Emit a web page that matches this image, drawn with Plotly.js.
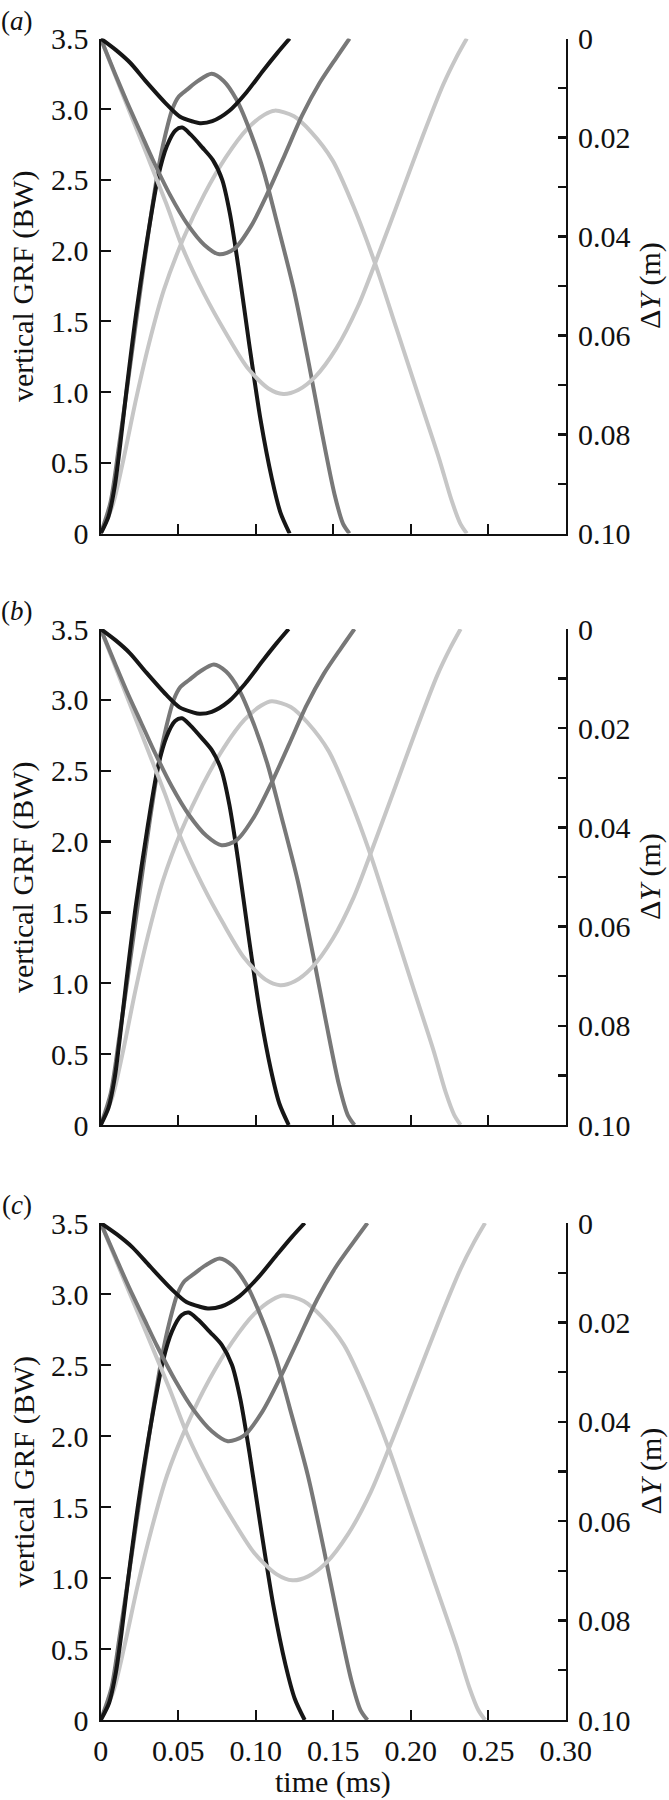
<!DOCTYPE html>
<html>
<head>
<meta charset="utf-8">
<script src="https://cdn.plot.ly/plotly-3.0.1.min.js"></script>
<style>html,body{margin:0;padding:0;background:#fff}#chart{width:669px;height:1800px}</style>
</head>
<body>
<div id="chart"></div>
<script>
// ---------- tick labels ----------
const timeTicks = [0, 0.05, 0.10, 0.15, 0.20, 0.25, 0.30];
const timeTickText = ['0', '0.05', '0.10', '0.15', '0.20', '0.25', '0.30'];
const grfTicks = [0, 0.5, 1.0, 1.5, 2.0, 2.5, 3.0, 3.5];
const grfTickText = ['0', '0.5', '1.0', '1.5', '2.0', '2.5', '3.0', '3.5'];
const dyTicks = [0, 0.01, 0.02, 0.03, 0.04, 0.05, 0.06, 0.07, 0.08, 0.09, 0.10];
const dyTickText = ['0', '', '0.02', '', '0.04', '', '0.06', '', '0.08', '', '0.10'];
const panelLabels = ['a', 'b', 'c'];

// ---------- panel (a) ----------
const tA_blackGRF = [0, 0.005, 0.009, 0.0125, 0.0165, 0.0228, 0.0306, 0.0372, 0.0427, 0.0482, 0.0526, 0.0581, 0.0655, 0.0724, 0.0784, 0.0834, 0.0889, 0.0958, 0.1032, 0.1104, 0.1159, 0.1219];
const grfA_black = [0, 0.12, 0.33, 0.62, 1.0, 1.55, 2.12, 2.53, 2.74, 2.85, 2.87, 2.82, 2.73, 2.64, 2.50, 2.26, 1.88, 1.34, 0.80, 0.39, 0.15, 0];
const tA_darkGRF = [0, 0.0063, 0.0118, 0.0173, 0.0242, 0.0311, 0.0372, 0.0413, 0.0462, 0.0504, 0.0559, 0.0628, 0.0716, 0.0793, 0.0875, 0.0972, 0.1054, 0.1137, 0.1247, 0.1343, 0.1426, 0.1508, 0.1563, 0.1605];
const grfA_dark = [0, 0.22, 0.62, 1.05, 1.61, 2.15, 2.58, 2.80, 3.00, 3.09, 3.14, 3.20, 3.25, 3.20, 3.07, 2.82, 2.55, 2.20, 1.72, 1.20, 0.72, 0.28, 0.07, 0];
const tA_lightGRF = [0, 0.0077, 0.0146, 0.0228, 0.0311, 0.0407, 0.0531, 0.0669, 0.0807, 0.0944, 0.1054, 0.1123, 0.1247, 0.1357, 0.1495, 0.1632, 0.177, 0.1908, 0.2045, 0.2183, 0.2265, 0.232, 0.2362];
const grfA_light = [0, 0.20, 0.52, 0.95, 1.34, 1.72, 2.08, 2.40, 2.66, 2.86, 2.96, 2.99, 2.95, 2.84, 2.64, 2.31, 1.91, 1.45, 0.99, 0.53, 0.23, 0.07, 0];
const tA_blackDY = [0, 0.0097, 0.019, 0.0296, 0.0426, 0.0512, 0.0598, 0.064, 0.072, 0.083, 0.094, 0.105, 0.114, 0.1219];
const dyA_black = [0, 0.0023, 0.0049, 0.0088, 0.0133, 0.0158, 0.0168, 0.0171, 0.0167, 0.0146, 0.0109, 0.0064, 0.0029, 0];
const tA_darkDY = [0, 0.0091, 0.0173, 0.0256, 0.0339, 0.0449, 0.0559, 0.0669, 0.0765, 0.0862, 0.0972, 0.1082, 0.1192, 0.1302, 0.1412, 0.1522, 0.1605];
const dyA_dark = [0, 0.0070, 0.0131, 0.0189, 0.0247, 0.0317, 0.0375, 0.0417, 0.0436, 0.0425, 0.0378, 0.0309, 0.0232, 0.0154, 0.0090, 0.0038, 0];
const tA_lightDY = [0, 0.0146, 0.0284, 0.0421, 0.0531, 0.0669, 0.0807, 0.0944, 0.1082, 0.1178, 0.1274, 0.1385, 0.1522, 0.166, 0.1797, 0.1935, 0.2073, 0.221, 0.2293, 0.2362];
const dyA_light = [0, 0.0116, 0.0224, 0.0332, 0.0425, 0.0517, 0.0595, 0.0664, 0.0707, 0.0718, 0.0710, 0.0683, 0.0625, 0.0541, 0.0432, 0.0317, 0.0201, 0.0093, 0.0039, 0];

// ---------- panel (b) ----------
const tB_blackGRF = [0, 0.005, 0.009, 0.0124, 0.0164, 0.0227, 0.0305, 0.037, 0.0425, 0.048, 0.0524, 0.0578, 0.0652, 0.072, 0.078, 0.083, 0.0885, 0.0953, 0.1027, 0.1098, 0.1153, 0.1213];
const grfB_black = [0, 0.12, 0.33, 0.62, 1.0, 1.55, 2.12, 2.53, 2.74, 2.85, 2.87, 2.82, 2.73, 2.64, 2.50, 2.26, 1.88, 1.34, 0.80, 0.39, 0.15, 0];
const tB_darkGRF = [0, 0.0064, 0.012, 0.0176, 0.0247, 0.0317, 0.0379, 0.0421, 0.0471, 0.0514, 0.057, 0.0641, 0.073, 0.0809, 0.0893, 0.0991, 0.1075, 0.116, 0.1272, 0.137, 0.1455, 0.1538, 0.1594, 0.1637];
const grfB_dark = [0, 0.22, 0.62, 1.05, 1.61, 2.15, 2.58, 2.80, 3.00, 3.09, 3.14, 3.20, 3.25, 3.20, 3.07, 2.82, 2.55, 2.20, 1.72, 1.20, 0.72, 0.28, 0.07, 0];
const tB_lightGRF = [0, 0.0076, 0.0144, 0.0224, 0.0306, 0.04, 0.0522, 0.0658, 0.0793, 0.0928, 0.1036, 0.1104, 0.1226, 0.1334, 0.147, 0.1604, 0.174, 0.1876, 0.201, 0.2146, 0.2226, 0.2281, 0.2322];
const grfB_light = [0, 0.20, 0.52, 0.95, 1.34, 1.72, 2.08, 2.40, 2.66, 2.86, 2.96, 2.99, 2.95, 2.84, 2.64, 2.31, 1.91, 1.45, 0.99, 0.53, 0.23, 0.07, 0];
const tB_blackDY = [0, 0.0097, 0.0189, 0.0295, 0.0424, 0.0509, 0.0595, 0.0637, 0.0716, 0.0826, 0.0935, 0.1045, 0.1134, 0.1213];
const dyB_black = [0, 0.0023, 0.0049, 0.0088, 0.0133, 0.0158, 0.0168, 0.0171, 0.0167, 0.0146, 0.0109, 0.0064, 0.0029, 0];
const tB_darkDY = [0, 0.0093, 0.0176, 0.0261, 0.0346, 0.0458, 0.057, 0.0682, 0.078, 0.0879, 0.0991, 0.1104, 0.1216, 0.1328, 0.144, 0.1552, 0.1637];
const dyB_dark = [0, 0.0070, 0.0131, 0.0189, 0.0247, 0.0317, 0.0375, 0.0417, 0.0436, 0.0425, 0.0378, 0.0309, 0.0232, 0.0154, 0.0090, 0.0038, 0];
const tB_lightDY = [0, 0.0144, 0.0279, 0.0414, 0.0522, 0.0658, 0.0793, 0.0928, 0.1064, 0.1158, 0.1252, 0.1361, 0.1496, 0.1632, 0.1766, 0.1902, 0.2038, 0.2172, 0.2254, 0.2322];
const dyB_light = [0, 0.0116, 0.0224, 0.0332, 0.0425, 0.0517, 0.0595, 0.0664, 0.0707, 0.0718, 0.0710, 0.0683, 0.0625, 0.0541, 0.0432, 0.0317, 0.0201, 0.0093, 0.0039, 0];

// ---------- panel (c) ----------
const tC_blackGRF = [0, 0.0054, 0.0097, 0.0135, 0.0178, 0.0246, 0.033, 0.0402, 0.0461, 0.0521, 0.0568, 0.0627, 0.0707, 0.0782, 0.0847, 0.0901, 0.096, 0.1035, 0.1115, 0.1192, 0.1252, 0.1316];
const grfC_black = [0, 0.12, 0.33, 0.62, 1.0, 1.55, 2.12, 2.53, 2.74, 2.85, 2.87, 2.82, 2.73, 2.64, 2.50, 2.26, 1.88, 1.34, 0.80, 0.39, 0.15, 0];
const tC_darkGRF = [0, 0.0068, 0.0126, 0.0185, 0.0259, 0.0333, 0.0399, 0.0443, 0.0495, 0.054, 0.0599, 0.0673, 0.0768, 0.085, 0.0938, 0.1042, 0.113, 0.1219, 0.1337, 0.144, 0.1529, 0.1617, 0.1676, 0.1721];
const grfC_dark = [0, 0.22, 0.62, 1.05, 1.61, 2.15, 2.58, 2.80, 3.00, 3.09, 3.14, 3.20, 3.25, 3.20, 3.07, 2.82, 2.55, 2.20, 1.72, 1.20, 0.72, 0.28, 0.07, 0];
const tC_lightGRF = [0, 0.0081, 0.0153, 0.0239, 0.0327, 0.0427, 0.0558, 0.0702, 0.0847, 0.0991, 0.1107, 0.1179, 0.1309, 0.1425, 0.157, 0.1714, 0.1859, 0.2003, 0.2147, 0.2292, 0.2378, 0.2436, 0.248];
const grfC_light = [0, 0.20, 0.52, 0.95, 1.34, 1.72, 2.08, 2.40, 2.66, 2.86, 2.96, 2.99, 2.95, 2.84, 2.64, 2.31, 1.91, 1.45, 0.99, 0.53, 0.23, 0.07, 0];
const tC_blackDY = [0, 0.0105, 0.0205, 0.032, 0.046, 0.0553, 0.0646, 0.0691, 0.0778, 0.0896, 0.1015, 0.1134, 0.1231, 0.1316];
const dyC_black = [0, 0.0023, 0.0049, 0.0088, 0.0134, 0.0159, 0.0169, 0.0172, 0.0168, 0.0147, 0.0110, 0.0065, 0.0029, 0];
const tC_darkDY = [0, 0.0098, 0.0185, 0.0274, 0.0363, 0.0481, 0.0599, 0.0717, 0.082, 0.0924, 0.1042, 0.116, 0.1278, 0.1396, 0.1514, 0.1632, 0.1721];
const dyC_dark = [0, 0.0070, 0.0131, 0.0189, 0.0247, 0.0317, 0.0376, 0.0419, 0.0439, 0.0428, 0.0380, 0.0310, 0.0232, 0.0154, 0.0090, 0.0038, 0];
const tC_lightDY = [0, 0.0153, 0.0298, 0.0442, 0.0558, 0.0702, 0.0847, 0.0991, 0.1136, 0.1237, 0.1338, 0.1454, 0.1598, 0.1743, 0.1887, 0.2032, 0.2177, 0.2321, 0.2408, 0.248];
const dyC_light = [0, 0.0116, 0.0224, 0.0332, 0.0425, 0.0517, 0.0595, 0.0664, 0.0707, 0.0719, 0.0711, 0.0684, 0.0625, 0.0541, 0.0432, 0.0317, 0.0201, 0.0093, 0.0039, 0];

// ---------- styling ----------
const BLACK = '#161616', DARK = '#787878', LIGHT = '#c6c6c6';
const FONT = 'Liberation Serif';
const FS = 30;
const LW = 4;

const panels = [
  {grf: [[tA_lightGRF, grfA_light, LIGHT], [tA_darkGRF, grfA_dark, DARK], [tA_blackGRF, grfA_black, BLACK]],
   dy:  [[tA_lightDY, dyA_light, LIGHT], [tA_darkDY, dyA_dark, DARK], [tA_blackDY, dyA_black, BLACK]],
   top: 38.5, bottom: 533.5},
  {grf: [[tB_lightGRF, grfB_light, LIGHT], [tB_darkGRF, grfB_dark, DARK], [tB_blackGRF, grfB_black, BLACK]],
   dy:  [[tB_lightDY, dyB_light, LIGHT], [tB_darkDY, dyB_dark, DARK], [tB_blackDY, dyB_black, BLACK]],
   top: 629, bottom: 1125},
  {grf: [[tC_lightGRF, grfC_light, LIGHT], [tC_darkGRF, grfC_dark, DARK], [tC_blackGRF, grfC_black, BLACK]],
   dy:  [[tC_lightDY, dyC_light, LIGHT], [tC_darkDY, dyC_dark, DARK], [tC_blackDY, dyC_black, BLACK]],
   top: 1223, bottom: 1720}
];

const W = 669, H = 1800;
const xLeft = 100.7, xRight = 565.7;
const px = v => v / W;
const py = v => 1 - v / H;

const layout = {
  width: W, height: H,
  margin: {l: 0, r: 0, t: 0, b: 0},
  paper_bgcolor: '#fff', plot_bgcolor: 'rgba(0,0,0,0)',
  showlegend: false,
  font: {family: FONT, size: FS, color: '#111'},
  annotations: []
};

const axisCommon = {
  showline: true, linewidth: 2.2, linecolor: '#111',
  ticks: 'inside', tickwidth: 2.2, tickcolor: '#111',
  showgrid: false, zeroline: false, fixedrange: true,
  tickfont: {family: FONT, size: FS, color: '#111'}
};

const lightTraces = [], darkTraces = [], blackTraces = [];
const bucket = c => (c === LIGHT ? lightTraces : c === DARK ? darkTraces : blackTraces);

panels.forEach((p, i) => {
  const xa = i === 0 ? 'x' : 'x' + (i + 1);
  const yl = 'y' + (i === 0 ? '' : (2 * i + 1));
  const yr = 'y' + (2 * i + 2);
  const xKey = i === 0 ? 'xaxis' : 'xaxis' + (i + 1);
  const ylKey = i === 0 ? 'yaxis' : 'yaxis' + (2 * i + 1);
  const yrKey = 'yaxis' + (2 * i + 2);
  const dom = [py(p.bottom), py(p.top)];

  layout[xKey] = Object.assign({}, axisCommon, {
    domain: [px(xLeft), px(xRight)], anchor: yl, range: [0, 0.30],
    tickvals: timeTicks, ticktext: timeTickText, ticklen: 10,
    showticklabels: i === 2, ticklabelstandoff: 3
  });
  layout[ylKey] = Object.assign({}, axisCommon, {
    domain: dom, anchor: xa, range: [0, 3.5],
    tickvals: grfTicks, ticktext: grfTickText, ticklen: 10, ticklabelstandoff: 4
  });
  layout[yrKey] = Object.assign({}, axisCommon, {
    domain: dom, anchor: xa, overlaying: yl, side: 'right', range: [0.10, 0],
    tickvals: dyTicks, ticktext: dyTickText, ticklen: 8, ticklabelstandoff: 4
  });

  p.dy.forEach(([t, v, c]) => bucket(c).push({
    x: t, y: v, xaxis: xa, yaxis: yr, type: 'scatter', mode: 'lines',
    line: {color: c, width: LW, shape: 'spline', smoothing: 0.8}, hoverinfo: 'skip'
  }));
  p.grf.forEach(([t, v, c]) => bucket(c).push({
    x: t, y: v, xaxis: xa, yaxis: yl, type: 'scatter', mode: 'lines',
    line: {color: c, width: LW, shape: 'spline', smoothing: 0.8}, hoverinfo: 'skip'
  }));

  const mid = (p.top + p.bottom) / 2;
  layout.annotations.push({
    text: '(<i>' + panelLabels[i] + '</i>)', xref: 'paper', yref: 'paper',
    x: px(17), y: py(p.top - 18), xanchor: 'center', yanchor: 'middle', showarrow: false,
    font: {family: FONT, size: 27, color: '#111'}
  });
  layout.annotations.push({
    text: 'vertical GRF (BW)', xref: 'paper', yref: 'paper',
    x: px(23), y: py(mid), xanchor: 'center', yanchor: 'middle', textangle: -90, showarrow: false,
    font: {family: FONT, size: FS, color: '#111'}
  });
  layout.annotations.push({
    text: 'Δ<i>Y</i> (m)', xref: 'paper', yref: 'paper',
    x: px(650), y: py(mid), xanchor: 'center', yanchor: 'middle', textangle: -90, showarrow: false,
    font: {family: FONT, size: FS, color: '#111'}
  });
});

layout.annotations.push({
  text: 'time (ms)', xref: 'paper', yref: 'paper',
  x: px((xLeft + xRight) / 2), y: 0, xanchor: 'center', yanchor: 'bottom', showarrow: false,
  borderpad: 0, font: {family: FONT, size: FS, color: '#111'}
});

const data = lightTraces.concat(darkTraces, blackTraces);
Plotly.newPlot('chart', data, layout, {staticPlot: true, displayModeBar: false});
</script>
</body>
</html>
